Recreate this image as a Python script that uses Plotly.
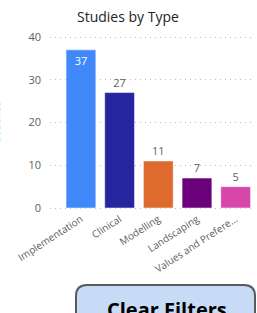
import plotly.graph_objects as go

categories = ["Implementation", "Clinical", "Modelling", "Landscaping", "Values and Prefere..."]
studies = [37, 27, 11, 7, 5]
bar_colors = ["#4189FA", "#2525A0", "#DE6A2E", "#6A007A", "#D747A9"]
label_pos = ["inside", "outside", "outside", "outside", "outside"]
label_colors = ["#FFFFFF", "#605E5C", "#605E5C", "#605E5C", "#605E5C"]
y_ticks = [0, 10, 20, 30, 40]

W, H = 257, 313
def px(x):
    return x / W
def py(y):
    return 1 - y / H

FONT = "Open Sans"
PPU = (208 - 37) / 40.0  # pixels per unit on y
Y_LO, Y_HI = -0.6, 40.6

fig = go.Figure()
fig.add_trace(go.Bar(
    x=categories, y=studies,
    marker=dict(color=bar_colors, line=dict(color="rgba(255,255,255,0.5)", width=1)),
    text=[str(v) for v in studies],
    textposition=label_pos,
    insidetextanchor="end",
    textfont=dict(family=FONT, size=11, color=label_colors),
    outsidetextfont=dict(family=FONT, size=11, color="#605E5C"),
    insidetextfont=dict(family=FONT, size=11, color="#FFFFFF"),
    cliponaxis=False,
    width=0.77,
    hoverinfo="skip",
))

# rounded button
x0, x1, y0, y1, r = 76, 255, 285, 330, 11
rx, ry = r / W, r / H
path = (f"M {px(x0)+rx},{py(y0)} L {px(x1)-rx},{py(y0)} "
        f"Q {px(x1)},{py(y0)} {px(x1)},{py(y0)-ry} "
        f"L {px(x1)},{py(y1)+ry} Q {px(x1)},{py(y1)} {px(x1)-rx},{py(y1)} "
        f"L {px(x0)+rx},{py(y1)} Q {px(x0)},{py(y1)} {px(x0)},{py(y1)+ry} "
        f"L {px(x0)},{py(y0)-ry} Q {px(x0)},{py(y0)} {px(x0)+rx},{py(y0)} Z")

fig.update_layout(
    width=W, height=H,
    margin=dict(l=0, r=0, t=0, b=0),
    paper_bgcolor="white", plot_bgcolor="white",
    showlegend=False,
    font=dict(family=FONT, color="#605E5C"),
    xaxis=dict(
        domain=[px(50), px(255)],
        range=[-0.8, 4.5],
        tickangle=-33,
        tickfont=dict(family=FONT, size=10, color="#605E5C"),
        showgrid=False, zeroline=False, showline=False, ticks="",
        automargin=False,
    ),
    yaxis=dict(
        domain=[py(208 - Y_LO * PPU), py(37 - (Y_HI - 40) * PPU)],
        range=[Y_LO, Y_HI],
        tickvals=y_ticks,
        tickfont=dict(family=FONT, size=11, color="#605E5C"),
        showgrid=True, gridcolor="#BDBBB9", griddash="1px,4px", gridwidth=1,
        zeroline=False, showline=False, ticks="", ticklabelstandoff=8,
        automargin=False,
    ),
    shapes=[dict(type="path", xref="paper", yref="paper", path=path,
                 fillcolor="#C7DBF6", line=dict(color="#5A5A5A", width=2), layer="above")],
    annotations=[
        dict(text="Studies by Type", x=px(128), y=py(16), xref="paper", yref="paper",
             xanchor="center", yanchor="middle", showarrow=False,
             font=dict(family=FONT, size=14, color="#252423")),
        dict(text="Studies", x=px(-4), y=py(122), xref="paper", yref="paper",
             xanchor="center", yanchor="middle", showarrow=False, textangle=-90,
             font=dict(family=FONT, size=12, color="#4A9FE0")),
        dict(text="<b>Clear Filters</b>", x=px(167), y=py(309), xref="paper", yref="paper",
             xanchor="center", yanchor="middle", showarrow=False,
             font=dict(family=FONT, size=20, color="#000000")),
    ],
)

fig.write_html("out.html", config={"displayModeBar": False},
               post_script="document.body.style.margin='0';document.body.style.overflow='hidden';")
